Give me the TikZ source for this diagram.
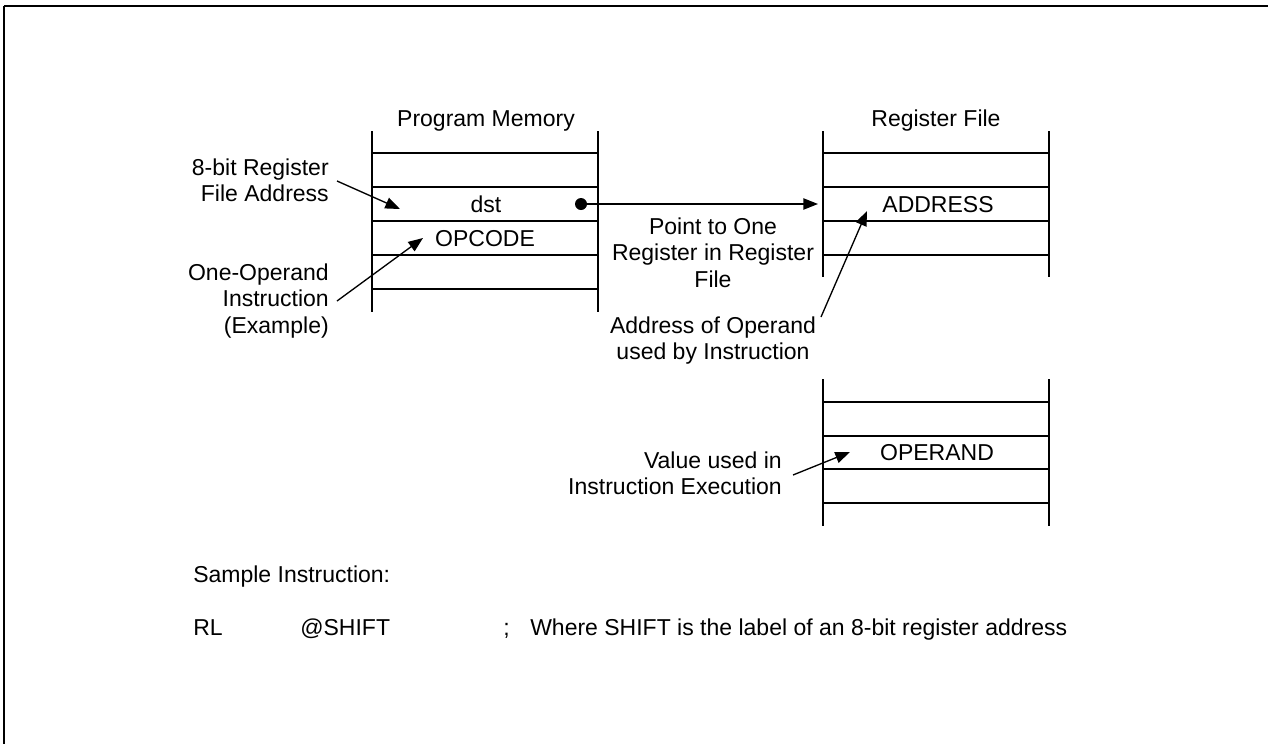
\documentclass[tikz,border=0pt]{standalone}
\usepackage{fontspec}
\setmainfont{Liberation Sans}
\usetikzlibrary{arrows.meta}
\begin{document}
\begin{tikzpicture}[x=0.75pt,y=-0.75pt,
  font=\fontsize{17.25pt}{20pt}\selectfont,
  ln/.style={line width=1pt},
  frameline/.style={line width=1.5pt},
  txt/.style={inner sep=0pt,anchor=base},
  lab/.style={inner sep=0pt,anchor=north east,align=right},
  labc/.style={inner sep=0pt,anchor=north,align=center},
  arr/.style={ln,-{Triangle[length=11pt,width=8.5pt]}}]
\useasboundingbox (0,0) rectangle (1268,744);
% frame
\draw[frameline] (4,6) -- (1268,6);
\draw[ln] (4,6) -- (4,744);
% Program memory
\draw[ln] (372,131) -- (372,312) (598,131) -- (598,312);
\foreach \y in {153,187,221,255,289} \draw[ln] (372,\y) -- (598,\y);
\node[txt] (pmt) at (486,126) {Program Memory};
\node[txt] (dst) at (486,212) {dst};
\node[txt] (opc) at (485,246) {OPCODE};
% Register file
\draw[ln] (823,131) -- (823,277) (1049,131) -- (1049,277);
\foreach \y in {153,187,221,255} \draw[ln] (823,\y) -- (1049,\y);
\node[txt] (rft) at (936,126) {Register File};
\node[txt] (adr) at (938,212) {ADDRESS};
% Register file (operand)
\draw[ln] (823,379) -- (823,526) (1049,379) -- (1049,526);
\foreach \y in {402,436,469,503} \draw[ln] (823,\y) -- (1049,\y);
\node[txt] (opd) at (937,460) {OPERAND};
% labels
\node[lab] (la) at (329,156.3) {\strut 8-bit Register\\\strut File Address};
\node[lab] (lb) at (329,261.3) {\strut One-Operand\\\strut Instruction\\\strut (Example)};
\node[labc] (lc) at (713,215.3) {\strut Point to One\\\strut Register in Register\\\strut File};
\node[labc] (ld) at (713,314.3) {\strut Address of Operand\\\strut used by Instruction};
\node[lab] (le) at (782,449.3) {\strut Value used in\\\strut Instruction Execution};
% arrow end points
\coordinate (a1s) at (337,181); \coordinate (a1e) at (400,209);
\coordinate (a2s) at (337,301); \coordinate (a2e) at (423,238);
\coordinate (a3s) at (821,317); \coordinate (a3e) at (867,211);
\coordinate (a4s) at (793,475); \coordinate (a4e) at (850,452);
\coordinate (ps) at (581,204); \coordinate (pe) at (818,204);
\draw[arr] (a1s) -- (a1e);
\draw[arr] (a2s) -- (a2e);
\draw[arr] (a3s) -- (a3e);
\draw[arr] (a4s) -- (a4e);
\draw[arr] (ps) -- (pe);
\fill (ps) circle (6);
% sample instruction
\node[txt,anchor=base west] (si) at (193,582) {Sample Instruction:};
\node[txt,anchor=base west] (rl) at (193,635) {RL};
\node[txt,anchor=base west] (sh) at (300,635) {@SHIFT};
\node[txt,anchor=base west] (sc) at (503,635) {;};
\node[txt,anchor=base west] (wh) at (530,635) {Where SHIFT is the label of an 8-bit register address};
\end{tikzpicture}
\end{document}
